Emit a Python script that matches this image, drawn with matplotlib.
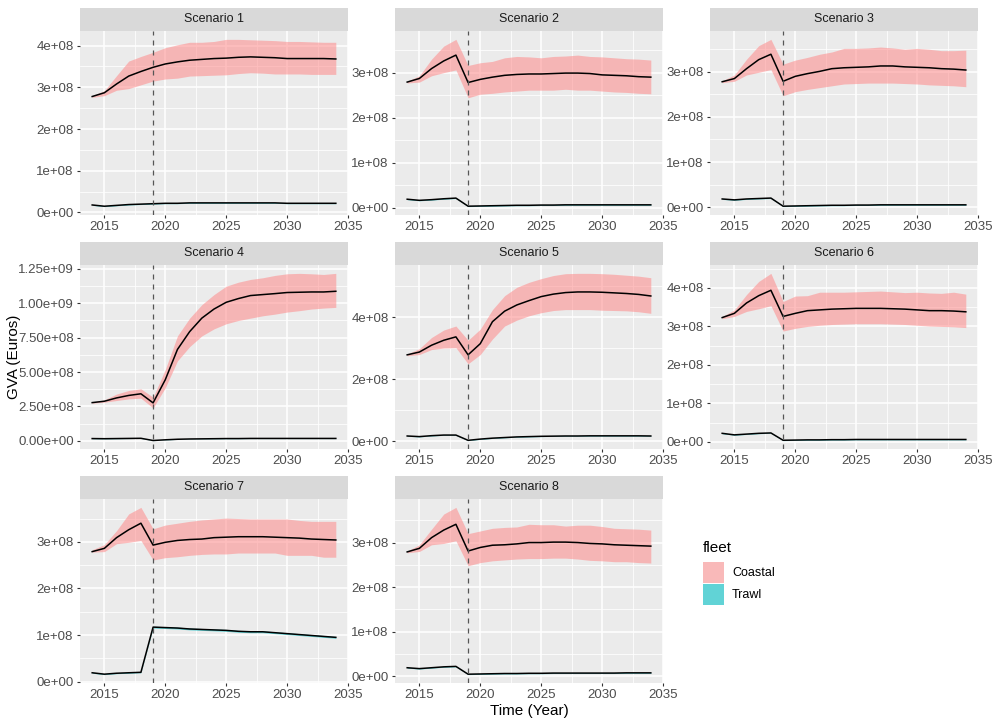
import numpy as np
import matplotlib.pyplot as plt
from matplotlib.patches import Rectangle

plt.rcParams['font.family'] = ['Liberation Sans', 'DejaVu Sans']

# values in units of 1e8 Euros
years = list(range(2014, 2035))
scenarios = ['Scenario 1', 'Scenario 2', 'Scenario 3', 'Scenario 4',
             'Scenario 5', 'Scenario 6', 'Scenario 7', 'Scenario 8']

s1_coastal_mid = [2.78, 2.87, 3.08, 3.27, 3.38, 3.48, 3.56, 3.61, 3.65, 3.67, 3.69, 3.70, 3.72, 3.73, 3.72, 3.71, 3.69, 3.69, 3.69, 3.69, 3.68]
s1_coastal_lo = [2.76, 2.80, 2.93, 2.97, 3.06, 3.15, 3.20, 3.22, 3.27, 3.28, 3.29, 3.30, 3.33, 3.35, 3.34, 3.32, 3.32, 3.32, 3.31, 3.31, 3.31]
s1_coastal_hi = [2.80, 2.92, 3.28, 3.63, 3.74, 3.84, 3.95, 4.02, 4.08, 4.08, 4.10, 4.15, 4.15, 4.14, 4.13, 4.12, 4.10, 4.10, 4.09, 4.08, 4.08]
s1_trawl_mid = [0.18, 0.15, 0.17, 0.19, 0.20, 0.21, 0.22, 0.22, 0.23, 0.23, 0.23, 0.23, 0.23, 0.23, 0.23, 0.23, 0.22, 0.22, 0.22, 0.22, 0.22]
s1_trawl_lo = [0.17, 0.14, 0.16, 0.18, 0.19, 0.20, 0.21, 0.21, 0.22, 0.22, 0.22, 0.22, 0.22, 0.22, 0.22, 0.22, 0.21, 0.21, 0.21, 0.21, 0.21]
s1_trawl_hi = [0.19, 0.16, 0.18, 0.20, 0.21, 0.22, 0.23, 0.23, 0.24, 0.24, 0.24, 0.24, 0.24, 0.24, 0.24, 0.24, 0.23, 0.23, 0.23, 0.23, 0.23]

s2_coastal_mid = [2.79, 2.87, 3.09, 3.26, 3.39, 2.78, 2.85, 2.90, 2.94, 2.96, 2.97, 2.97, 2.98, 2.99, 2.99, 2.98, 2.95, 2.94, 2.93, 2.91, 2.90]
s2_coastal_lo = [2.77, 2.79, 2.93, 3.00, 3.06, 2.44, 2.52, 2.54, 2.57, 2.59, 2.61, 2.61, 2.61, 2.63, 2.61, 2.61, 2.59, 2.57, 2.56, 2.54, 2.53]
s2_coastal_hi = [2.81, 2.93, 3.30, 3.59, 3.74, 3.16, 3.22, 3.25, 3.33, 3.36, 3.35, 3.33, 3.36, 3.37, 3.39, 3.36, 3.35, 3.33, 3.31, 3.30, 3.28]
s2_trawl_mid = [0.185, 0.16, 0.175, 0.195, 0.21, 0.03, 0.035, 0.04, 0.045, 0.05, 0.05, 0.055, 0.055, 0.06, 0.06, 0.06, 0.06, 0.06, 0.06, 0.06, 0.06]
s2_trawl_lo = [0.175, 0.15, 0.165, 0.185, 0.20, 0.02, 0.025, 0.03, 0.035, 0.04, 0.04, 0.045, 0.045, 0.05, 0.05, 0.05, 0.05, 0.05, 0.05, 0.05, 0.05]
s2_trawl_hi = [0.195, 0.17, 0.185, 0.205, 0.22, 0.04, 0.045, 0.05, 0.055, 0.06, 0.06, 0.065, 0.065, 0.07, 0.07, 0.07, 0.07, 0.07, 0.07, 0.07, 0.07]

s3_coastal_mid = [2.78, 2.85, 3.07, 3.27, 3.39, 2.79, 2.90, 2.96, 3.01, 3.07, 3.09, 3.10, 3.11, 3.13, 3.13, 3.11, 3.10, 3.09, 3.07, 3.06, 3.04]
s3_coastal_lo = [2.76, 2.79, 2.93, 2.99, 3.05, 2.47, 2.56, 2.61, 2.65, 2.69, 2.73, 2.74, 2.75, 2.75, 2.75, 2.74, 2.73, 2.71, 2.70, 2.69, 2.67]
s3_coastal_hi = [2.80, 2.93, 3.28, 3.58, 3.72, 3.17, 3.26, 3.32, 3.39, 3.44, 3.52, 3.52, 3.53, 3.55, 3.53, 3.50, 3.52, 3.50, 3.47, 3.47, 3.48]
s3_trawl_mid = [0.18, 0.16, 0.18, 0.19, 0.20, 0.02, 0.025, 0.03, 0.035, 0.04, 0.04, 0.045, 0.045, 0.05, 0.05, 0.05, 0.05, 0.05, 0.05, 0.05, 0.05]
s3_trawl_lo = [0.17, 0.15, 0.17, 0.18, 0.19, 0.01, 0.015, 0.02, 0.025, 0.03, 0.03, 0.035, 0.035, 0.04, 0.04, 0.04, 0.04, 0.04, 0.04, 0.04, 0.04]
s3_trawl_hi = [0.19, 0.17, 0.19, 0.20, 0.21, 0.03, 0.035, 0.04, 0.045, 0.05, 0.05, 0.055, 0.055, 0.06, 0.06, 0.06, 0.06, 0.06, 0.06, 0.06, 0.06]

s4_coastal_mid = [2.78, 2.88, 3.12, 3.30, 3.42, 2.76, 4.44, 6.64, 7.93, 8.91, 9.57, 10.06, 10.33, 10.55, 10.62, 10.69, 10.77, 10.79, 10.81, 10.81, 10.86]
s4_coastal_lo = [2.74, 2.81, 2.93, 3.05, 3.10, 2.39, 3.86, 5.81, 6.84, 7.62, 8.13, 8.50, 8.74, 8.91, 9.08, 9.20, 9.35, 9.45, 9.57, 9.64, 9.69]
s4_coastal_hi = [2.82, 2.98, 3.40, 3.66, 3.78, 3.17, 5.18, 7.62, 8.91, 9.89, 10.62, 11.23, 11.52, 11.72, 11.84, 12.01, 12.13, 12.16, 12.13, 12.08, 12.16]
s4_trawl_mid = [0.17, 0.16, 0.17, 0.18, 0.19, 0.03, 0.08, 0.12, 0.14, 0.15, 0.16, 0.17, 0.17, 0.18, 0.18, 0.18, 0.18, 0.18, 0.18, 0.18, 0.18]
s4_trawl_lo = [0.16, 0.15, 0.16, 0.17, 0.18, 0.02, 0.07, 0.11, 0.13, 0.14, 0.15, 0.16, 0.16, 0.17, 0.17, 0.17, 0.17, 0.17, 0.17, 0.17, 0.17]
s4_trawl_hi = [0.18, 0.17, 0.18, 0.19, 0.20, 0.04, 0.09, 0.13, 0.15, 0.16, 0.17, 0.18, 0.18, 0.19, 0.19, 0.19, 0.19, 0.19, 0.19, 0.19, 0.19]

s5_coastal_mid = [2.79, 2.88, 3.10, 3.26, 3.37, 2.79, 3.15, 3.86, 4.20, 4.40, 4.54, 4.67, 4.75, 4.80, 4.82, 4.82, 4.81, 4.79, 4.77, 4.74, 4.69]
s5_coastal_lo = [2.76, 2.80, 2.96, 3.01, 3.02, 2.50, 2.80, 3.30, 3.72, 3.91, 4.05, 4.15, 4.22, 4.25, 4.25, 4.25, 4.23, 4.22, 4.21, 4.18, 4.13]
s5_coastal_hi = [2.82, 2.99, 3.35, 3.59, 3.72, 3.26, 3.62, 4.25, 4.70, 4.97, 5.13, 5.25, 5.35, 5.41, 5.42, 5.42, 5.41, 5.39, 5.36, 5.33, 5.28]
s5_trawl_mid = [0.17, 0.15, 0.18, 0.20, 0.20, 0.03, 0.07, 0.10, 0.12, 0.14, 0.15, 0.16, 0.165, 0.17, 0.17, 0.175, 0.175, 0.175, 0.175, 0.175, 0.17]
s5_trawl_lo = [0.16, 0.14, 0.17, 0.19, 0.19, 0.02, 0.06, 0.09, 0.11, 0.13, 0.14, 0.15, 0.155, 0.16, 0.16, 0.165, 0.165, 0.165, 0.165, 0.165, 0.16]
s5_trawl_hi = [0.18, 0.16, 0.19, 0.21, 0.21, 0.04, 0.08, 0.11, 0.13, 0.15, 0.16, 0.17, 0.175, 0.18, 0.18, 0.185, 0.185, 0.185, 0.185, 0.185, 0.18]

s6_coastal_mid = [3.23, 3.34, 3.61, 3.80, 3.94, 3.26, 3.34, 3.41, 3.43, 3.45, 3.46, 3.47, 3.47, 3.47, 3.46, 3.45, 3.43, 3.41, 3.41, 3.40, 3.38]
s6_coastal_lo = [3.20, 3.26, 3.39, 3.46, 3.54, 2.88, 2.95, 3.00, 3.03, 3.05, 3.06, 3.07, 3.07, 3.07, 3.06, 3.05, 3.03, 3.01, 3.00, 2.99, 2.97]
s6_coastal_hi = [3.26, 3.43, 3.83, 4.17, 4.38, 3.65, 3.79, 3.80, 3.89, 3.89, 3.89, 3.90, 3.91, 3.92, 3.90, 3.88, 3.89, 3.87, 3.86, 3.89, 3.84]
s6_trawl_mid = [0.22, 0.18, 0.20, 0.22, 0.23, 0.04, 0.045, 0.05, 0.05, 0.055, 0.055, 0.06, 0.06, 0.06, 0.06, 0.06, 0.06, 0.06, 0.06, 0.06, 0.06]
s6_trawl_lo = [0.21, 0.17, 0.19, 0.21, 0.22, 0.03, 0.035, 0.04, 0.04, 0.045, 0.045, 0.05, 0.05, 0.05, 0.05, 0.05, 0.05, 0.05, 0.05, 0.05, 0.05]
s6_trawl_hi = [0.23, 0.19, 0.21, 0.23, 0.24, 0.05, 0.055, 0.06, 0.06, 0.065, 0.065, 0.07, 0.07, 0.07, 0.07, 0.07, 0.07, 0.07, 0.07, 0.07, 0.07]

s7_coastal_mid = [2.79, 2.86, 3.09, 3.26, 3.40, 2.93, 2.99, 3.03, 3.05, 3.06, 3.09, 3.10, 3.11, 3.11, 3.11, 3.10, 3.09, 3.08, 3.06, 3.05, 3.04]
s7_coastal_lo = [2.78, 2.79, 2.96, 2.99, 3.03, 2.61, 2.66, 2.68, 2.71, 2.73, 2.74, 2.74, 2.76, 2.76, 2.76, 2.76, 2.71, 2.71, 2.71, 2.67, 2.67]
s7_coastal_hi = [2.83, 2.94, 3.24, 3.60, 3.74, 3.28, 3.36, 3.40, 3.44, 3.47, 3.49, 3.51, 3.50, 3.49, 3.49, 3.49, 3.49, 3.46, 3.44, 3.44, 3.44]
s7_trawl_mid = [0.19, 0.16, 0.18, 0.19, 0.20, 1.17, 1.16, 1.15, 1.13, 1.12, 1.11, 1.10, 1.08, 1.07, 1.07, 1.05, 1.03, 1.01, 0.99, 0.97, 0.95]
s7_trawl_lo = [0.18, 0.15, 0.17, 0.18, 0.19, 1.15, 1.14, 1.13, 1.11, 1.10, 1.09, 1.08, 1.06, 1.05, 1.05, 1.03, 1.01, 0.99, 0.97, 0.95, 0.93]
s7_trawl_hi = [0.20, 0.17, 0.19, 0.20, 0.21, 1.19, 1.18, 1.17, 1.15, 1.14, 1.13, 1.12, 1.10, 1.09, 1.09, 1.07, 1.05, 1.03, 1.01, 0.99, 0.97]

s8_coastal_mid = [2.79, 2.87, 3.11, 3.28, 3.41, 2.81, 2.89, 2.94, 2.95, 2.97, 3.00, 3.00, 3.01, 3.01, 3.00, 2.98, 2.97, 2.95, 2.94, 2.93, 2.92]
s8_coastal_lo = [2.77, 2.80, 2.95, 2.98, 3.04, 2.48, 2.55, 2.59, 2.61, 2.63, 2.64, 2.64, 2.65, 2.65, 2.63, 2.60, 2.59, 2.57, 2.57, 2.55, 2.54]
s8_coastal_hi = [2.81, 2.95, 3.30, 3.64, 3.79, 3.20, 3.26, 3.32, 3.34, 3.35, 3.41, 3.40, 3.40, 3.37, 3.39, 3.39, 3.36, 3.32, 3.31, 3.30, 3.28]
s8_trawl_mid = [0.19, 0.17, 0.19, 0.21, 0.22, 0.045, 0.05, 0.055, 0.06, 0.06, 0.065, 0.065, 0.07, 0.07, 0.07, 0.07, 0.07, 0.07, 0.075, 0.075, 0.075]
s8_trawl_lo = [0.18, 0.16, 0.18, 0.20, 0.21, 0.035, 0.04, 0.045, 0.05, 0.05, 0.055, 0.055, 0.06, 0.06, 0.06, 0.06, 0.06, 0.06, 0.065, 0.065, 0.065]
s8_trawl_hi = [0.20, 0.18, 0.20, 0.22, 0.23, 0.055, 0.06, 0.065, 0.07, 0.07, 0.075, 0.075, 0.08, 0.08, 0.08, 0.08, 0.08, 0.08, 0.085, 0.085, 0.085]

coastal_mid = [s1_coastal_mid, s2_coastal_mid, s3_coastal_mid, s4_coastal_mid,
               s5_coastal_mid, s6_coastal_mid, s7_coastal_mid, s8_coastal_mid]
coastal_lo = [s1_coastal_lo, s2_coastal_lo, s3_coastal_lo, s4_coastal_lo,
              s5_coastal_lo, s6_coastal_lo, s7_coastal_lo, s8_coastal_lo]
coastal_hi = [s1_coastal_hi, s2_coastal_hi, s3_coastal_hi, s4_coastal_hi,
              s5_coastal_hi, s6_coastal_hi, s7_coastal_hi, s8_coastal_hi]
trawl_mid = [s1_trawl_mid, s2_trawl_mid, s3_trawl_mid, s4_trawl_mid,
             s5_trawl_mid, s6_trawl_mid, s7_trawl_mid, s8_trawl_mid]
trawl_lo = [s1_trawl_lo, s2_trawl_lo, s3_trawl_lo, s4_trawl_lo,
            s5_trawl_lo, s6_trawl_lo, s7_trawl_lo, s8_trawl_lo]
trawl_hi = [s1_trawl_hi, s2_trawl_hi, s3_trawl_hi, s4_trawl_hi,
            s5_trawl_hi, s6_trawl_hi, s7_trawl_hi, s8_trawl_hi]

y_steps = [1e8, 1e8, 1e8, 2.5e8, 2e8, 1e8, 1e8, 1e8]
UNIT = 1e8

COASTAL = '#FF8A8A'
TRAWL = '#00BFC4'
C_ALPHA = 0.55
T_ALPHA = 0.6


def sci_labels(ticks):
    # R style: same number of decimals for every label in the axis
    for d in range(4):
        labs = [f'{t:.{d}e}' for t in ticks]
        if all(abs(float(l) - t) < 1e-6 * max(1, abs(t)) for l, t in zip(labs, ticks)):
            return labs
    return [f'{t:.2e}' for t in ticks]


W, H = 998, 726
fig = plt.figure(figsize=(W / 100, H / 100), dpi=100)


def px_axes(x, y, w, h):
    return fig.add_axes([x / W, 1 - (y + h) / H, w / W, h / H])


col_x = [80, 395, 710]
row_y = [31, 265, 499]
pw, ph, sh = 268, 184, 23

for i, name in enumerate(scenarios):
    r, c = divmod(i, 3)
    ax = px_axes(col_x[c], row_y[r], pw, ph)
    ax.set_facecolor('#EBEBEB')

    cm = np.array(coastal_mid[i]) * UNIT
    clo = np.array(coastal_lo[i]) * UNIT
    chi = np.array(coastal_hi[i]) * UNIT
    tm = np.array(trawl_mid[i]) * UNIT
    tlo = np.array(trawl_lo[i]) * UNIT
    thi = np.array(trawl_hi[i]) * UNIT

    ax.fill_between(years, clo, chi, color=COASTAL, alpha=C_ALPHA, lw=0)
    ax.fill_between(years, tlo, thi, color=TRAWL, alpha=T_ALPHA, lw=0)
    ax.plot(years, cm, color='black', lw=1.1)
    ax.plot(years, tm, color='black', lw=1.1)
    ax.axvline(2019, color='#555555', ls=(0, (4, 4)), lw=0.9)

    ymin = min(clo.min(), tlo.min())
    ymax = max(chi.max(), thi.max())
    pad = 0.05 * (ymax - ymin)
    y0, y1 = ymin - pad, ymax + pad
    ax.set_ylim(y0, y1)
    ax.set_xlim(2013, 2035)

    step = y_steps[i]
    major = np.arange(0, y1, step)
    major = major[major >= y0]
    minor = np.arange(-step / 2, y1 + step, step)
    minor = minor[(minor >= y0) & (minor <= y1)]
    ax.set_yticks(major)
    ax.set_yticklabels(sci_labels(major))
    ax.set_yticks(minor, minor=True)
    ax.set_xticks([2015, 2020, 2025, 2030, 2035])
    ax.set_xticks([2017.5, 2022.5, 2027.5, 2032.5], minor=True)

    ax.grid(which='major', color='white', lw=1.1)
    ax.grid(which='minor', color='white', lw=0.55)
    ax.set_axisbelow(True)
    for s in ax.spines.values():
        s.set_visible(False)
    ax.tick_params(which='major', length=2.5, width=0.8, color='#333333',
                   labelsize=9.5, labelcolor='#4D4D4D', pad=2)
    ax.tick_params(which='minor', length=0)

    # facet strip
    st = px_axes(col_x[c], row_y[r] - sh, pw, sh)
    st.set_facecolor('#D9D9D9')
    st.set_xticks([])
    st.set_yticks([])
    for s in st.spines.values():
        s.set_visible(False)
    st.text(0.5, 0.5, name, ha='center', va='center', fontsize=9, color='#1A1A1A',
            transform=st.transAxes)

fig.text(529 / W, 1 - 711 / H, 'Time (Year)', ha='center', va='center', fontsize=11)
fig.text(14 / W, 1 - 357 / H, 'GVA (Euros)', ha='center', va='center', fontsize=11,
         rotation=90)

# legend
fig.text(703 / W, 1 - 548 / H, 'fleet', ha='left', va='center', fontsize=11)
for k, (lab, col, a) in enumerate([('Coastal', COASTAL, C_ALPHA), ('Trawl', TRAWL, T_ALPHA)]):
    ytop = 562 + k * 22
    fig.patches.append(Rectangle((703 / W, 1 - (ytop + 21) / H), 21 / W, 21 / H,
                                 transform=fig.transFigure, facecolor='#F2F2F2', lw=0))
    fig.patches.append(Rectangle((703 / W, 1 - (ytop + 21) / H), 21 / W, 21 / H,
                                 transform=fig.transFigure, facecolor=col, alpha=a, lw=0))
    fig.text(732 / W, 1 - (ytop + 10.5) / H, lab, ha='left', va='center', fontsize=9)

fig.savefig('out.png', dpi=100, facecolor='white')
